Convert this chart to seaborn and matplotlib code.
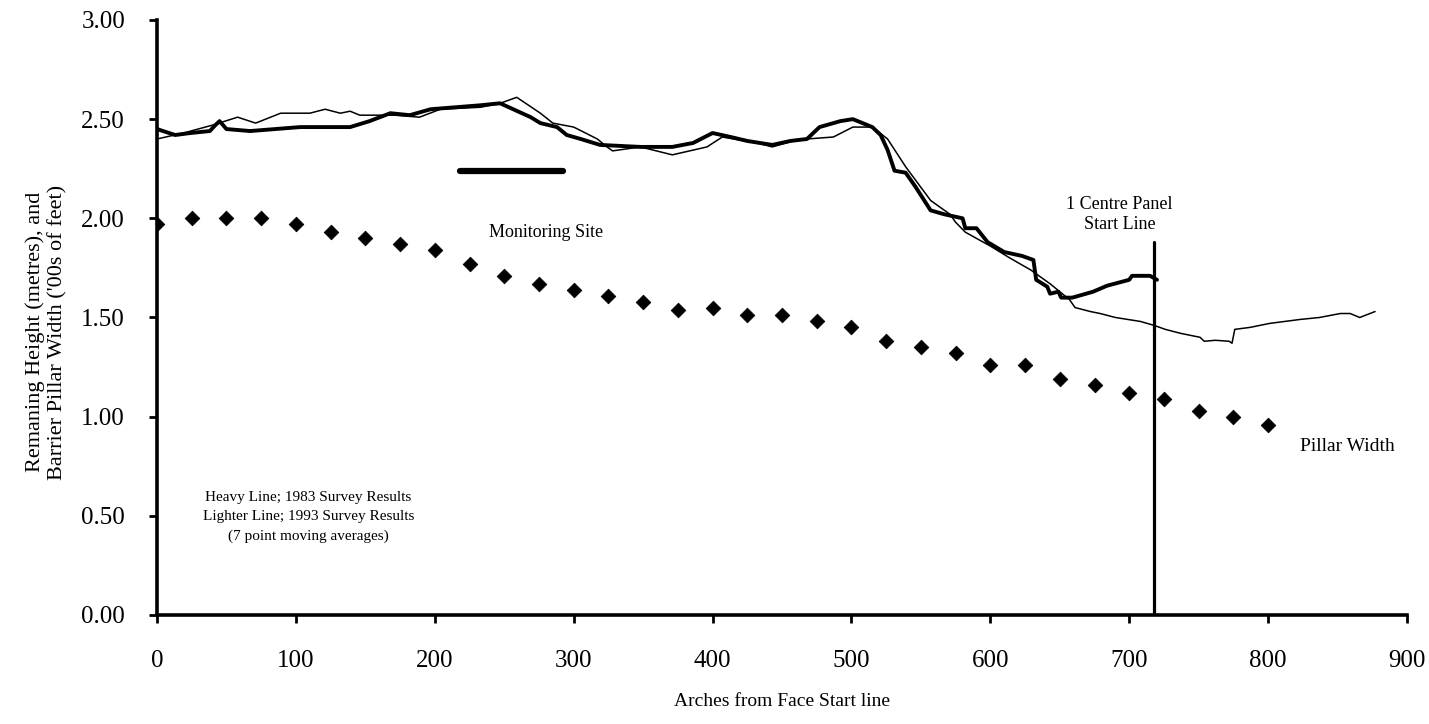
import numpy as np
import pandas as pd
import matplotlib
matplotlib.use("Agg")
import matplotlib.pyplot as plt
import seaborn as sns

# ---------------- data ----------------
arches_1983 = [0, 13, 24, 38, 42, 45, 50, 67, 103, 139, 153, 168, 182, 197, 233, 247,
               269, 276, 288, 295, 305, 319, 348, 371, 386, 400, 413, 425, 443, 456,
               468, 477, 492, 501, 515, 521, 526, 531, 539, 546, 557, 567, 580, 582,
               590, 598, 610, 623, 631, 633, 641, 643, 649, 651, 659, 674, 684, 700,
               702, 715, 720]
height_1983 = [2.45, 2.42, 2.43, 2.44, 2.47, 2.49, 2.45, 2.44, 2.46, 2.46, 2.49, 2.53,
               2.52, 2.55, 2.57, 2.58, 2.51, 2.48, 2.46, 2.42, 2.40, 2.37, 2.36, 2.36,
               2.38, 2.43, 2.41, 2.39, 2.37, 2.39, 2.40, 2.46, 2.49, 2.50, 2.46, 2.42,
               2.345, 2.24, 2.23, 2.16, 2.04, 2.02, 2.00, 1.95, 1.95, 1.88, 1.83, 1.81,
               1.79, 1.69, 1.655, 1.62, 1.63, 1.60, 1.60, 1.63, 1.66, 1.69, 1.71, 1.71,
               1.69]

arches_1993 = [0, 19, 40, 58, 71, 89, 110, 121, 132, 139, 146, 157, 171, 189, 204,
               233, 247, 259, 276, 285, 300, 317, 324, 328, 348, 371, 396, 407, 432,
               443, 458, 468, 487, 501, 515, 526, 539, 557, 571, 575, 582, 600, 614,
               629, 643, 650, 657, 661, 672, 679, 690, 708, 718, 726, 737, 751, 754,
               762, 772, 774, 776, 787, 801, 823, 837, 852, 859, 866, 877]
height_1993 = [2.40, 2.43, 2.47, 2.51, 2.48, 2.53, 2.53, 2.55, 2.53, 2.54, 2.52, 2.52,
               2.52, 2.51, 2.55, 2.56, 2.58, 2.61, 2.53, 2.48, 2.46, 2.40, 2.36, 2.34,
               2.36, 2.32, 2.36, 2.41, 2.38, 2.36, 2.39, 2.40, 2.41, 2.46, 2.46, 2.40,
               2.26, 2.09, 2.02, 1.98, 1.93, 1.86, 1.80, 1.74, 1.67, 1.63, 1.59, 1.55,
               1.53, 1.52, 1.50, 1.48, 1.46, 1.44, 1.42, 1.40, 1.38, 1.385, 1.38, 1.37,
               1.44, 1.45, 1.47, 1.49, 1.50, 1.52, 1.52, 1.50, 1.53]

pillar_arches = [0, 25, 50, 75, 100, 125, 150, 175, 200, 225, 250, 275, 300, 325, 350,
                 375, 400, 425, 450, 475, 500, 525, 550, 575, 600, 625, 650, 675, 700,
                 725, 750, 775, 800]
pillar_width = [1.97, 2.00, 2.00, 2.00, 1.97, 1.93, 1.90, 1.87, 1.84, 1.77, 1.71, 1.67,
                1.64, 1.61, 1.58, 1.54, 1.55, 1.51, 1.51, 1.48, 1.45, 1.38, 1.35, 1.32,
                1.26, 1.26, 1.19, 1.16, 1.12, 1.09, 1.03, 1.00, 0.96]

monitoring_site_x = [218, 292]
monitoring_site_y = [2.24, 2.24]
start_line_x = [718, 718]
start_line_y = [0.0, 1.88]

x_ticks = [0, 100, 200, 300, 400, 500, 600, 700, 800, 900]
y_ticks = [0.00, 0.50, 1.00, 1.50, 2.00, 2.50, 3.00]

# ---------------- style ----------------
sns.set_theme(style="ticks")
plt.rcParams['font.family'] = ['Liberation Serif', 'DejaVu Serif']

fig = plt.figure(figsize=(14.29, 7.24), dpi=100)
ax = fig.add_axes([0.1099, 0.1506, 0.8747, 0.8218])

df83 = pd.DataFrame({"x": arches_1983, "y": height_1983})
df93 = pd.DataFrame({"x": arches_1993, "y": height_1993})
dfp = pd.DataFrame({"x": pillar_arches, "y": pillar_width})

sns.lineplot(data=df93, x="x", y="y", sort=False, estimator=None, color="black",
             linewidth=1.1, ax=ax)
sns.lineplot(data=df83, x="x", y="y", sort=False, estimator=None, color="black",
             linewidth=2.8, ax=ax)
sns.scatterplot(data=dfp, x="x", y="y", marker="D", s=55, color="black",
                edgecolor="black", ax=ax, zorder=5)

ax.plot(monitoring_site_x, monitoring_site_y, color="black", linewidth=4.5,
        solid_capstyle="round")
ax.plot(start_line_x, start_line_y, color="black", linewidth=2.3)

ax.set_xlim(0, 900)
ax.set_ylim(0, 3.0)
ax.set_xticks(x_ticks)
ax.set_xticklabels([str(v) for v in x_ticks])
ax.set_yticks(y_ticks)
ax.set_yticklabels([f"{v:.2f}" for v in y_ticks])

sns.despine(ax=ax)
for s in ("left", "bottom"):
    ax.spines[s].set_linewidth(2.6)
    ax.spines[s].set_color("black")

ax.tick_params(axis="x", direction="out", length=6, width=2, pad=19,
               labelsize=18, colors="black")
ax.tick_params(axis="y", direction="out", length=6, width=2, pad=17,
               labelsize=18, colors="black")

ax.set_xlabel("Arches from Face Start line", fontsize=14, labelpad=15, color="black")
ax.set_ylabel("Remaning Height (metres), and\nBarrier Pillar Width ('00s of feet)",
              fontsize=16, color="black", linespacing=1.2)
ax.yaxis.set_label_coords(-0.072, 0.475)

ax.text(280, 1.93, "Monitoring Site", fontsize=13, ha="center", va="center",
        color="black")
ax.text(693, 2.02, "1 Centre Panel\nStart Line", fontsize=13, ha="center",
        va="center", color="black", linespacing=1.25)
ax.text(857, 0.85, "Pillar Width", fontsize=14, ha="center", va="center",
        color="black")
ax.text(109, 0.495, "Heavy Line; 1983 Survey Results\nLighter Line; 1993 Survey Results\n(7 point moving averages)",
        fontsize=11, ha="center", va="center", color="black", linespacing=1.6)

ax.grid(False)
fig.savefig("out.png", dpi=100)
